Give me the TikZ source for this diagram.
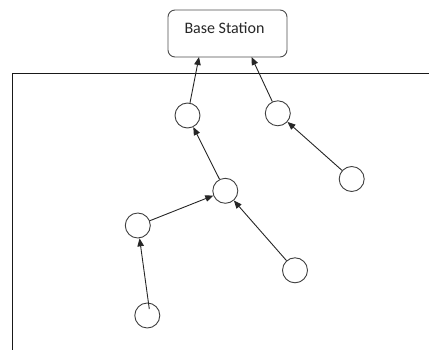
\documentclass[tikz,border=0pt]{standalone}
\usepackage{fontspec}
\setmainfont{Carlito}
\usetikzlibrary{arrows.meta}
\begin{document}
\begin{tikzpicture}[x=1pt,y=-1pt,
  sensor/.style={circle,draw=black!75,line width=0.9pt,minimum size=25pt,inner sep=0pt,fill=white},
  basebox/.style={draw=black!70,line width=0.9pt,rounded corners=7pt,minimum width=119pt,minimum height=47pt,inner sep=0pt,text height=11pt,text depth=10pt,font=\fontsize{16}{18}\selectfont,text=black!85},
  link/.style={draw=black!85,line width=0.9pt,-{Triangle[length=8pt,width=6.5pt]}},
  frame/.style={draw=black!90,line width=0.9pt}]
\useasboundingbox (0,0) rectangle (429,350);
\draw[frame] (12,350) -- (12,73) -- (429,73);
\node[basebox] (bs) at (227.5,33.5) {Base Station\hspace*{6pt}};
\coordinate (bsl) at (199,57);
\coordinate (bsr) at (251.5,57);
\node[sensor] (c1) at (187.5,115.5) {};
\node[sensor] (c2) at (277.8,113.3) {};
\node[sensor] (c3) at (351.7,179) {};
\node[sensor] (c4) at (225.3,190.8) {};
\node[sensor] (c5) at (137.8,225.5) {};
\node[sensor] (c6) at (295,270.3) {};
\node[sensor] (c7) at (147.3,315.5) {};
\coordinate (c7in) at (149.3,309);
\draw[link] (c1) -- (bsl);
\draw[link] (c2) -- (bsr);
\draw[link] (c3) -- (c2);
\draw[link] (c4) -- (c1);
\draw[link] (c5) -- (c4);
\draw[link] (c6) -- (c4);
\draw[link] (c7in) -- (c5);
\end{tikzpicture}
\end{document}
